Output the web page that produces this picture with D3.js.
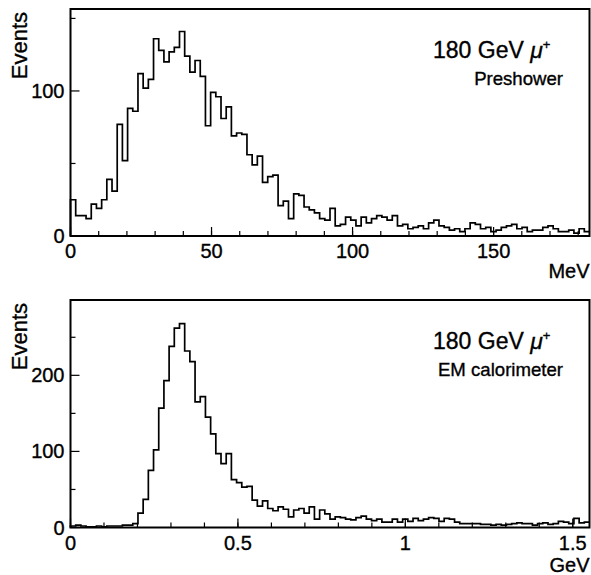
<!DOCTYPE html>
<html>
<head>
<meta charset="utf-8">
<script src="https://cdn.jsdelivr.net/npm/d3@7"></script>
<style>
	body { margin: 0; background: #fff; }
	svg { display: block; }
	text { font-family: "Liberation Sans", Arial, Helvetica, sans-serif; fill: #000; stroke: #000; stroke-width: 0.35px; }
</style>
</head>
<body>
<div id="chart"></div>
<script>
// Preshower energy deposit, 100 bins over 0-184 MeV
const preshowerRange = [ 0, 184 ];
const preshowerCounts = [
	25, 14, 14, 12, 22, 19, 25, 39, 31, 77,
	52, 88, 86, 112, 102, 108, 136, 128, 120, 127,
	130, 141, 124, 113, 121, 110, 76, 99, 96, 81,
	89, 69, 71, 70, 56, 49, 55, 37, 41, 42,
	21, 24, 12, 29, 28, 20, 18, 16, 12, 11,
	19, 7, 8, 13, 11, 7, 13, 9, 12, 14,
	13, 11, 14, 7, 8, 5, 6, 7, 5, 9,
	11, 7, 6, 4, 5, 3, 5, 9, 8, 5,
	6, 3, 4, 6, 7, 8, 5, 6, 3, 4,
	4, 6, 7, 5, 3, 3, 4, 2, 5, 3,
];

// EM calorimeter energy deposit, 100 bins over 0-1.55 GeV
const calorimeterRange = [ 0, 1.55 ];
const calorimeterCounts = [
	2, 3, 2, 1, 1, 2, 1, 2, 2, 2,
	3, 3, 5, 19, 37, 75, 102, 157, 193, 238,
	262, 268, 232, 218, 165, 172, 145, 123, 97, 84,
	97, 63, 59, 53, 54, 36, 28, 35, 25, 22,
	27, 24, 14, 23, 25, 19, 27, 11, 23, 18,
	11, 14, 13, 11, 10, 13, 15, 11, 9, 11,
	7, 7, 11, 7, 11, 8, 12, 9, 11, 13,
	12, 8, 12, 11, 7, 5, 5, 5, 5, 4,
	4, 3, 4, 3, 4, 5, 6, 5, 5, 3,
	5, 6, 4, 5, 8, 7, 5, 12, 6, 7,
];

const preshowerXTicks = [ 0, 50, 100, 150 ];
const preshowerXMinor = d3.range( 0, 184, 10 );
const preshowerYTicks = [ 0, 100 ];
const preshowerYMinor = [ 50, 150 ];

const calorimeterXTicks = [ 0, 0.5, 1, 1.5 ];
const calorimeterXMinor = d3.range( 0, 15.5, 1 ).map( ( d ) => d / 10 );
const calorimeterYTicks = [ 0, 100, 200 ];
const calorimeterYMinor = [ 50, 150, 250 ];

const width = 591,
	height = 575;

const svg = d3.select( '#chart' )
	.append( 'svg' )
	.attr( 'width', width )
	.attr( 'height', height );

function drawPanel( opts ) {
	const { top, bottom, yMax, range, counts, xTicks, xMinor, yTicks, yMinor, tickFormat, unit, unitY, subtitle } = opts;
	const left = 70.5,
		right = 589.5;

	const x = d3.scaleLinear().domain( range ).range( [ left, right ] );
	const y = d3.scaleLinear().domain( [ 0, yMax ] ).range( [ bottom, top ] );

	const g = svg.append( 'g' );

	// Histogram outline as a step line
	const binWidth = ( range[ 1 ] - range[ 0 ] ) / counts.length;
	const points = [ [ range[ 0 ], 0 ] ];
	counts.forEach( ( c, i ) => points.push( [ range[ 0 ] + i * binWidth, c ] ) );
	points.push( [ range[ 1 ], counts[ counts.length - 1 ] ] );

	const line = d3.line()
		.x( ( d ) => x( d[ 0 ] ) )
		.y( ( d ) => y( d[ 1 ] ) )
		.curve( d3.curveStepAfter );

	g.append( 'path' )
		.datum( points )
		.attr( 'fill', 'none' )
		.attr( 'stroke', '#000' )
		.attr( 'stroke-width', 1.7 )
		.attr( 'd', line );

	// Frame
	g.append( 'rect' )
		.attr( 'x', left )
		.attr( 'y', top )
		.attr( 'width', right - left )
		.attr( 'height', bottom - top )
		.attr( 'fill', 'none' )
		.attr( 'stroke', '#000' )
		.attr( 'stroke-width', 2 );

	// Ticks, all pointing inward
	g.selectAll( null ).data( xMinor ).enter().append( 'line' )
		.attr( 'x1', ( d ) => x( d ) ).attr( 'x2', ( d ) => x( d ) )
		.attr( 'y1', bottom ).attr( 'y2', bottom - 5 )
		.attr( 'stroke', '#000' ).attr( 'stroke-width', 1.2 );
	g.selectAll( null ).data( xTicks ).enter().append( 'line' )
		.attr( 'x1', ( d ) => x( d ) ).attr( 'x2', ( d ) => x( d ) )
		.attr( 'y1', bottom ).attr( 'y2', bottom - 9 )
		.attr( 'stroke', '#000' ).attr( 'stroke-width', 1.2 );
	g.selectAll( null ).data( yMinor ).enter().append( 'line' )
		.attr( 'x1', left ).attr( 'x2', left + 5 )
		.attr( 'y1', ( d ) => y( d ) ).attr( 'y2', ( d ) => y( d ) )
		.attr( 'stroke', '#000' ).attr( 'stroke-width', 1.2 );
	g.selectAll( null ).data( yTicks ).enter().append( 'line' )
		.attr( 'x1', left ).attr( 'x2', left + 9 )
		.attr( 'y1', ( d ) => y( d ) ).attr( 'y2', ( d ) => y( d ) )
		.attr( 'stroke', '#000' ).attr( 'stroke-width', 1.2 );

	// Tick labels
	g.selectAll( null ).data( xTicks ).enter().append( 'text' )
		.attr( 'x', ( d ) => x( d ) )
		.attr( 'y', bottom + 22 )
		.attr( 'text-anchor', 'middle' )
		.style( 'font-size', '20px' )
		.text( tickFormat );
	g.selectAll( null ).data( yTicks ).enter().append( 'text' )
		.attr( 'x', left - 6 )
		.attr( 'y', ( d ) => y( d ) + 7 )
		.attr( 'text-anchor', 'end' )
		.style( 'font-size', '20px' )
		.text( ( d ) => d );

	// Axis titles
	g.append( 'text' )
		.attr( 'x', right )
		.attr( 'y', unitY )
		.attr( 'text-anchor', 'end' )
		.style( 'font-size', '20px' )
		.text( unit );
	g.append( 'text' )
		.attr( 'transform', `translate(27,${ top + 3 }) rotate(-90)` )
		.attr( 'text-anchor', 'end' )
		.style( 'font-size', '22px' )
		.text( 'Events' );

	// Labels in the upper right
	const t = g.append( 'text' )
		.attr( 'x', 433 )
		.attr( 'y', top + 49 )
		.style( 'font-size', '23px' );
	t.append( 'tspan' ).text( '180 GeV ' );
	t.append( 'tspan' ).style( 'font-style', 'italic' ).text( 'μ' );
	t.append( 'tspan' ).attr( 'dy', -9 ).style( 'font-size', '13px' ).text( '+' );

	g.append( 'text' )
		.attr( 'x', 563 )
		.attr( 'y', top + 76 )
		.attr( 'text-anchor', 'end' )
		.style( 'font-size', '18.6px' )
		.text( subtitle );
}

drawPanel( {
	top: 9,
	bottom: 236,
	yMax: 156.5,
	range: preshowerRange,
	counts: preshowerCounts,
	xTicks: preshowerXTicks,
	xMinor: preshowerXMinor,
	yTicks: preshowerYTicks,
	yMinor: preshowerYMinor,
	tickFormat: ( d ) => d,
	unit: 'MeV',
	unitY: 278,
	subtitle: 'Preshower',
} );

drawPanel( {
	top: 300,
	bottom: 527.5,
	yMax: 299,
	range: calorimeterRange,
	counts: calorimeterCounts,
	xTicks: calorimeterXTicks,
	xMinor: calorimeterXMinor,
	yTicks: calorimeterYTicks,
	yMinor: calorimeterYMinor,
	tickFormat: ( d ) => d,
	unit: 'GeV',
	unitY: 572,
	subtitle: 'EM calorimeter',
} );
</script>
</body>
</html>
